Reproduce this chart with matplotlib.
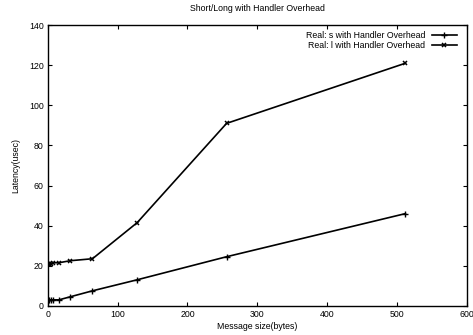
import matplotlib
matplotlib.use("Agg")
import matplotlib.pyplot as plt

sizes = [1, 2, 4, 8, 16, 32, 64, 128, 256, 512]
short_lat = [3, 3, 3, 3, 3, 4.5, 7.5, 13, 24.5, 46]
long_lat = [21, 21, 21, 21.5, 21.5, 22.5, 23.5, 41.5, 91, 121]
labels = ["Real: s with Handler Overhead", "Real: l with Handler Overhead"]

plt.rcParams['font.family'] = ['Liberation Sans', 'DejaVu Sans']
fig = plt.figure(figsize=(4.73, 3.35), dpi=100)
ax = fig.add_axes([0.101, 0.087, 0.886, 0.838])
ax.plot(sizes, short_lat, color='black', lw=1.2, marker='+', ms=4, mew=1.0, label=labels[0])
ax.plot(sizes, long_lat, color='black', lw=1.2, marker='x', ms=3.5, mew=1.1, label=labels[1])
ax.set_xlim(0, 600)
ax.set_ylim(0, 140)
ax.set_xticks(range(0, 601, 100))
ax.set_yticks(range(0, 141, 20))
ax.tick_params(direction='in', top=True, right=True, labelsize=6.3, length=3, width=0.8, pad=3)
for s in ax.spines.values():
    s.set_linewidth(1.0)
ax.set_title("Short/Long with Handler Overhead", fontsize=6.3, pad=10)
ax.set_xlabel("Message size(bytes)", fontsize=6.3, labelpad=2)
ax.set_ylabel("Latency(usec)", fontsize=6.3, labelpad=6)
ax.legend(loc='upper right', fontsize=6.3, frameon=False, markerfirst=False,
          handlelength=2.8, handletextpad=0.8, labelspacing=0.05,
          borderaxespad=0.3, bbox_to_anchor=(0.99, 1.0))
fig.savefig("out.png", dpi=100)
